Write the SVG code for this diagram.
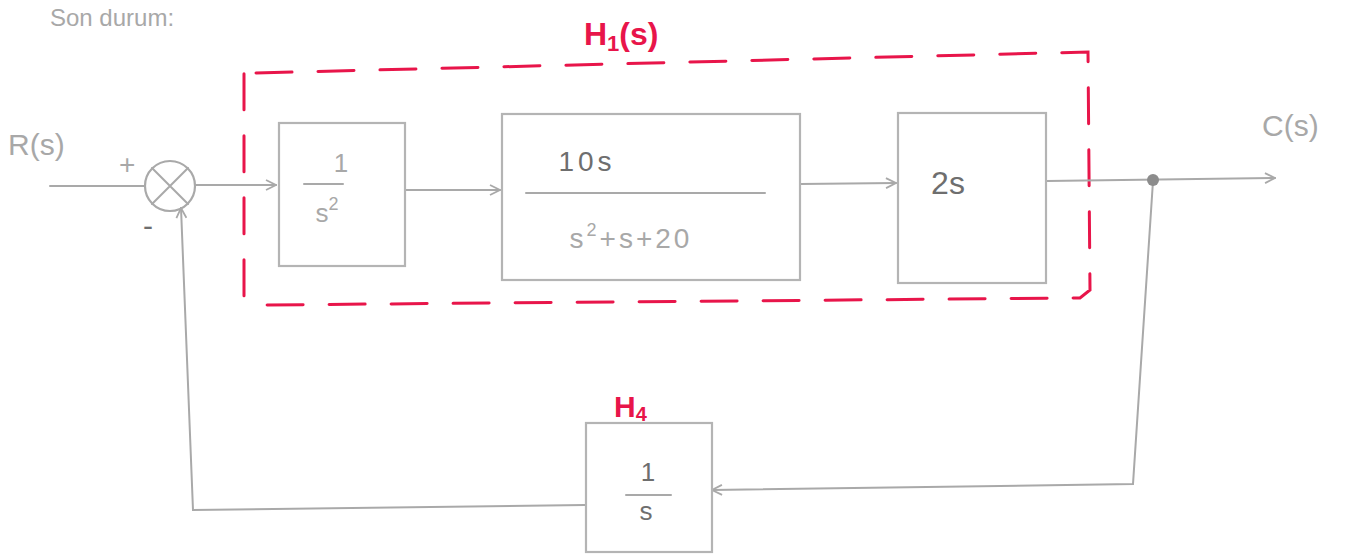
<svg xmlns="http://www.w3.org/2000/svg" width="1359" height="558" viewBox="0 0 1359 558">
<style>
.ln{fill:none;stroke:#a9a9a9;stroke-width:2;stroke-linecap:round}
.bx{fill:none;stroke:#b4b4b4;stroke-width:2.2}
.t{font-family:"Liberation Sans",Arial,sans-serif;fill:#6e6e6e}
.tl{font-family:"Liberation Sans",Arial,sans-serif;fill:#a8a8a8}
.red{font-family:"Liberation Sans",Arial,sans-serif;fill:#e8154a;font-weight:bold}
.dash{fill:none;stroke:#e8154a;stroke-width:3;stroke-dasharray:36 26;stroke-linecap:round}
</style>
<defs>
<marker id="ar" viewBox="0 0 12 12" refX="11" refY="6" markerWidth="12" markerHeight="12" markerUnits="userSpaceOnUse" orient="auto">
<path d="M1,1 L11,6 L1,11" fill="none" stroke="#a9a9a9" stroke-width="1.8"/>
</marker>
</defs>
<text class="tl" x="50" y="26" font-size="24">Son durum:</text>
<g id="frame">
<path class="dash" d="M256,73 L1088,52 L1090,290 L1080,298 L262,305 L244,297 L244,73"/>
<text class="red" x="584" y="45" font-size="32">H<tspan font-size="22" dy="6">1</tspan><tspan dy="-6">(s)</tspan></text>
</g>
<g id="connectors">
<path class="ln" d="M50,186 L145,186"/>
<path class="ln" d="M195,185 L276,185" marker-end="url(#ar)"/>
<path class="ln" d="M405,190 L500,190" marker-end="url(#ar)"/>
<path class="ln" d="M800,184 L896,183" marker-end="url(#ar)"/>
<path class="ln" d="M1047,181 L1275,178" marker-end="url(#ar)"/>
<path class="ln" d="M1153,181 L1133,484 L712,490" marker-end="url(#ar)"/>
<path class="ln" d="M585,505 L193,510 L181,208" marker-end="url(#ar)"/>
<circle cx="1153" cy="180" r="6" fill="#8c8c8c"/>
</g>
<g id="inputs">
<text class="tl" x="8" y="155" font-size="30">R(s)</text>
<text class="tl" x="1262" y="136" font-size="30">C(s)</text>
</g>
<g id="sum">
<circle cx="170" cy="186" r="25" fill="none" stroke="#a9a9a9" stroke-width="2.2"/>
<path class="ln" d="M152,168 L188,204 M188,168 L152,204"/>
<text class="tl" x="119" y="174" font-size="28">+</text>
<text class="t" x="143" y="236" font-size="30">-</text>
</g>
<g id="g1">
<rect class="bx" x="279" y="123" width="126" height="143"/>
<text class="tl" x="341" y="172" font-size="26" text-anchor="middle">1</text>
<path class="ln" d="M304,184 L343,184"/>
<text class="tl" x="327" y="222" font-size="26" text-anchor="middle">s<tspan font-size="18" dy="-12">2</tspan></text>
</g>
<g id="g2">
<rect class="bx" x="502" y="114" width="298" height="166"/>
<text class="t" x="587" y="171" font-size="28" text-anchor="middle" letter-spacing="4">10s</text>
<path class="ln" d="M526,193 L765,193"/>
<text class="tl" x="631" y="248" font-size="28" text-anchor="middle" letter-spacing="3">s<tspan font-size="18" dy="-12">2</tspan><tspan dy="12">+s+20</tspan></text>
</g>
<g id="g3">
<rect class="bx" x="898" y="113" width="148" height="170"/>
<text class="t" x="948" y="194" font-size="32" text-anchor="middle">2s</text>
</g>
<g id="h4">
<rect class="bx" x="586" y="423" width="126" height="129"/>
<text class="t" x="648" y="481" font-size="26" text-anchor="middle">1</text>
<path class="ln" d="M626,495 L671,495" stroke-width="3"/>
<text class="t" x="646" y="520" font-size="26" text-anchor="middle">s</text>
<text class="red" x="614" y="417" font-size="30">H<tspan font-size="20" dy="4">4</tspan></text>
</g>
</svg>
